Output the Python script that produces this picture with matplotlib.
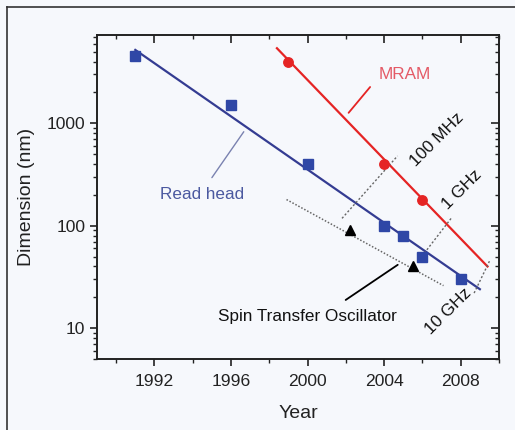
import numpy as np
import matplotlib
matplotlib.use("Agg")
import matplotlib.pyplot as plt
from matplotlib.ticker import FixedLocator, LogLocator, NullFormatter
from matplotlib.lines import Line2D

plt.rcParams["font.family"] = ["Liberation Sans", "DejaVu Sans"]

# read head (squares) and its fit line
read_years = [1991, 1996, 2000, 2004, 2005, 2006, 2008]
read_dims = [4500, 1500, 400, 100, 80, 50, 30]
read_fit_years = [1991, 2009]
read_fit_dims = [5200, 24]

# MRAM (circles) and its fit line
mram_years = [1999, 2004, 2006]
mram_dims = [4000, 400, 180]
mram_fit_years = [1998.4, 2009.4]
mram_fit_dims = [5400, 40]

# spin transfer oscillator (triangles) and dotted trend
sto_years = [2002.2, 2005.5]
sto_dims = [90, 40]
sto_fit_years = [1998.9, 2007.1]
sto_fit_dims = [180, 26]

# frequency guide lines
freq_labels = ["100 MHz", "1 GHz", "10 GHz"]
freq_years = [[2001.8, 2004.7], [2006.1, 2007.5], [2008.7, 2009.5]]
freq_dims = [[118, 480], [54, 118], [22, 45]]

XMAJ = [1992, 1996, 2000, 2004, 2008]
XMIN = [1990, 1994, 1998, 2002, 2006, 2010]
YMAJ = [10, 100, 1000]
XLIM = (1989, 2010)
YLIM = (5, 7270)

BG = "#f6f8fc"
BLUE = "#2f47a6"
NAVY = "#343c92"
RED = "#e52424"
INK = "#222222"

fig = plt.figure(figsize=(5.15, 4.3), dpi=100, facecolor=BG)
ax = fig.add_axes([97 / 515, 1 - 359 / 430, (499 - 97) / 515, (359 - 35) / 430])
ax.set_facecolor(BG)

# outer frame of the figure
fig.add_artist(Line2D([7 / 515, 1], [1 - 7 / 430] * 2, color="#333333", lw=1.2))
fig.add_artist(Line2D([7 / 515] * 2, [0, 1 - 7 / 430], color="#333333", lw=1.2))

ax.plot(read_fit_years, read_fit_dims, color=NAVY, lw=1.6)
ax.plot(mram_fit_years, mram_fit_dims, color=RED, lw=1.6)
ax.plot(sto_fit_years, sto_fit_dims, color="#666666", lw=1.1, ls=(0, (1, 1.2)))
for yrs, dms in zip(freq_years, freq_dims):
    ax.plot(yrs, dms, color="#666666", lw=1.0, ls=(0, (1.5, 1.5)))

ax.plot(read_years, read_dims, "s", color=BLUE, ms=6.8, zorder=3)
ax.plot(mram_years, mram_dims, "o", color=RED, ms=6.8, zorder=3)
ax.plot(sto_years, sto_dims, "^", color="black", ms=7, zorder=3)

ax.set_yscale("log")
ax.set_xlim(*XLIM)
ax.set_ylim(*YLIM)

ax.xaxis.set_major_locator(FixedLocator(XMAJ))
ax.xaxis.set_minor_locator(FixedLocator(XMIN))
ax.yaxis.set_major_locator(FixedLocator(YMAJ))
ax.yaxis.set_minor_locator(LogLocator(base=10, subs=np.arange(2, 10)))
ax.yaxis.set_minor_formatter(NullFormatter())
ax.set_yticklabels([str(v) for v in YMAJ])

ax.tick_params(which="both", direction="out", labelsize=12.6, colors=INK)
ax.tick_params(which="major", length=5, width=1.2)
ax.tick_params(which="minor", length=3, width=1.0)
ax.tick_params(axis="x", which="major", pad=6)
for sp in ax.spines.values():
    sp.set_linewidth(1.4)
    sp.set_color(INK)

# top and right axes carry inward ticks only
axr = ax.twinx()
axr.set_yscale("log")
axr.set_ylim(*YLIM)
axr.yaxis.set_major_locator(FixedLocator(YMAJ))
axr.yaxis.set_minor_locator(LogLocator(base=10, subs=np.arange(2, 10)))
axr.tick_params(which="both", direction="in", labelright=False, colors=INK)
axr.tick_params(which="major", length=6, width=1.2)
axr.tick_params(which="minor", length=3, width=1.0)

axt = ax.twiny()
axt.set_xlim(*XLIM)
axt.xaxis.set_major_locator(FixedLocator(XMAJ))
axt.xaxis.set_minor_locator(FixedLocator(XMIN))
axt.tick_params(which="both", direction="in", labeltop=False, colors=INK)
axt.tick_params(which="major", length=6, width=1.2)
axt.tick_params(which="minor", length=3, width=1.0)
for a in (axr, axt):
    for sp in a.spines.values():
        sp.set_visible(False)

ax.set_xlabel("Year", fontsize=14, labelpad=11, color=INK)
ax.set_ylabel("Dimension (nm)", fontsize=14, labelpad=8, color=INK)

# labels and leader lines
ax.text(2005.1, 3000, "MRAM", color="#e45a66", fontsize=12.3, ha="center", va="center")
ax.annotate("", xy=(2002.05, 1205), xytext=(2003.36, 2370),
            arrowprops=dict(arrowstyle="-", color=RED, lw=1.3))
ax.text(1994.5, 200, "Read head", color="#4b59a0", fontsize=12.3, ha="center", va="center")
ax.annotate("", xy=(1996.75, 870), xytext=(1994.92, 280),
            arrowprops=dict(arrowstyle="-", color="#7a82b0", lw=1.0))
ax.text(1999.97, 13.0, "Spin Transfer Oscillator", color="#111111", fontsize=12.3,
        ha="center", va="center")
ax.annotate("", xy=(2004.83, 43), xytext=(2001.87, 18.2),
            arrowprops=dict(arrowstyle="-", color="black", lw=1.3))

freq_text_pos = [(2006.75, 690), (2008.05, 224), (2007.35, 14.5)]
for lab, (tx, ty) in zip(freq_labels, freq_text_pos):
    ax.text(tx, ty, lab, fontsize=12.3, rotation=45, ha="center", va="center",
            color="#111111", rotation_mode="anchor")

fig.savefig("out.png", dpi=100, facecolor=BG)
